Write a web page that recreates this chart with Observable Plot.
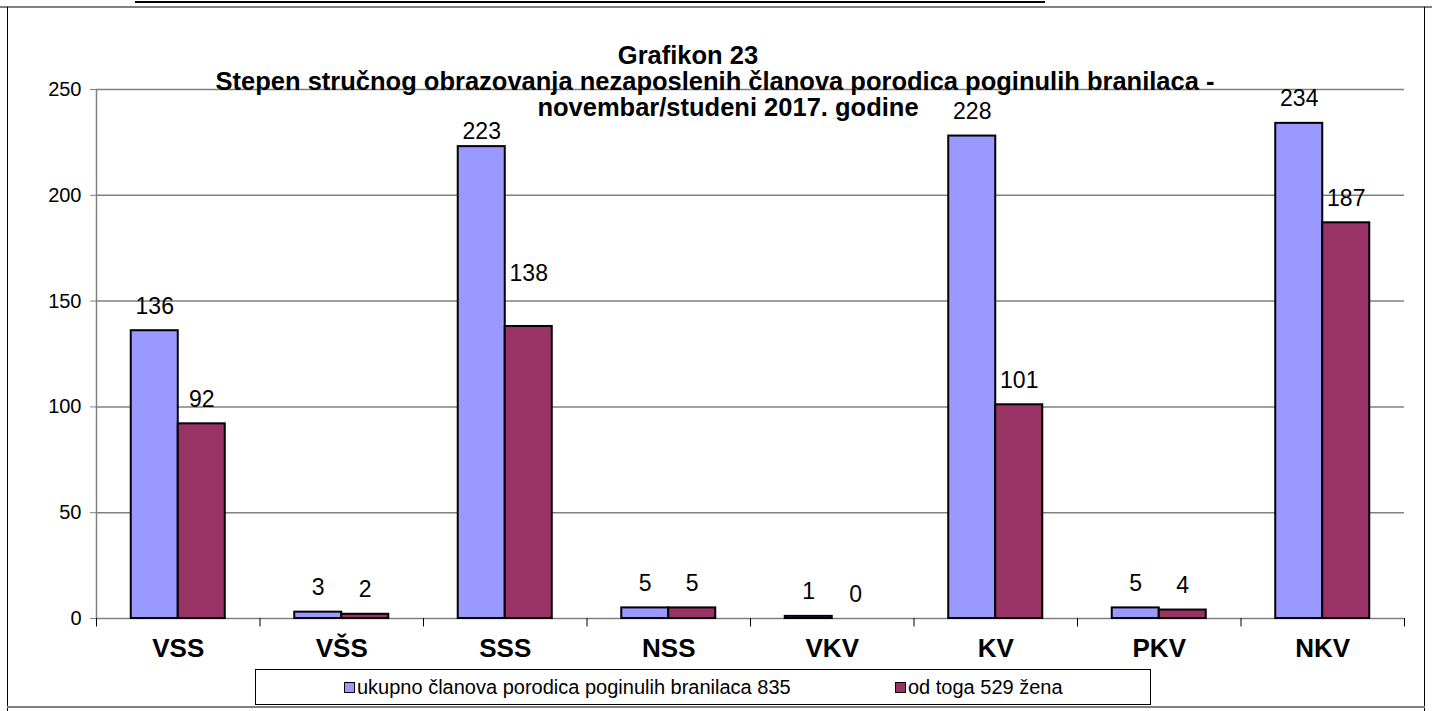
<!DOCTYPE html>
<html>
<head>
<meta charset="utf-8">
<script src="https://cdn.jsdelivr.net/npm/d3@7"></script>
<script src="https://cdn.jsdelivr.net/npm/@observablehq/plot@0.6"></script>
<style>
  html, body { margin: 0; padding: 0; background: #fff; }
  #wrap { position: relative; width: 1432px; height: 711px; overflow: hidden; font-family: "Liberation Sans", Arial, sans-serif; }
  #chart { position: absolute; left: 0; top: 0; }
  .title { position: absolute; font-weight: bold; font-size: 25.5px; white-space: nowrap; transform: translateX(-50%); line-height: 1; }
  #legend { position: absolute; left: 255px; top: 669px; width: 896px; height: 36px; border: 1px solid #000; background: #fff; box-sizing: border-box; font-size: 20px; }
  .li { position: absolute; top: 6px; white-space: nowrap; line-height: 22px; }
  .sw { display: inline-block; width: 9px; height: 9px; border: 1.5px solid #000; margin-right: 2px; vertical-align: 1px; }
  .line { position: absolute; }
</style>
</head>
<body>
<div id="wrap">
  <div class="line" style="left:135px; top:1px; width:910px; height:2px; background:#000;"></div>
  <div class="line" style="left:0; top:6px; width:1432px; height:2px; background:#808080;"></div>
  <div class="line" style="left:7px; top:7px; width:1px; height:704px; background:#000;"></div>
  <div class="line" style="left:1424px; top:7px; width:1px; height:704px; background:#000;"></div>
  <div class="line" style="left:7px; top:706px; width:1418px; height:2px; background:#808080;"></div>
  <div id="chart"></div>
  <div class="title" id="t1" style="left:688px; top:43px;"></div>
  <div class="title" id="t2" style="left:715px; top:69px;"></div>
  <div class="title" id="t3" style="left:728px; top:95px;"></div>
  <div id="legend">
    <div class="li" style="left:88px;"><span class="sw" style="background:#9999FF"></span><span id="l1"></span></div>
    <div class="li" style="left:639px;"><span class="sw" style="background:#993366"></span><span id="l2"></span></div>
  </div>
</div>
<script>
const titleLines = ["Grafikon 23", "Stepen stručnog obrazovanja nezaposlenih članova porodica poginulih branilaca -", "novembar/studeni 2017. godine"];
const categories = ["VSS", "VŠS", "SSS", "NSS", "VKV", "KV", "PKV", "NKV"];
const seriesNames = ["ukupno članova porodica poginulih branilaca 835", "od toga 529  žena"];
const totalValues = [136, 3, 223, 5, 1, 228, 5, 234];
const womenValues = [92, 2, 138, 5, 0, 101, 4, 187];
const yTicks = [0, 50, 100, 150, 200, 250];
const colors = ["#9999FF", "#993366"];

// manual nudges of a few data labels, as in the original chart (style, pixels)
const totalLabelNudge = {SSS: 9};
const womenLabelNudge = {SSS: -28};

document.getElementById("t1").textContent = titleLines[0];
document.getElementById("t2").textContent = titleLines[1];
document.getElementById("t3").textContent = titleLines[2];
document.getElementById("l1").textContent = seriesNames[0];
document.getElementById("l2").textContent = seriesNames[1];

const total = categories.map((c, i) => ({cat: c, v: totalValues[i]}));
const women = categories.map((c, i) => ({cat: c, v: womenValues[i]}));

const W = 1432, ML = 96, MR = 28;
const step = (W - ML - MR) / categories.length;
const half = step * 0.575 / 2;

const labelMarks = (data, nudge, dx) => [
  Plot.text(data.filter(d => !(d.cat in nudge)), {x: "cat", y: "v", text: d => String(d.v), dx, dy: -17, lineAnchor: "bottom", fontSize: 23, fill: "#000"}),
  ...data.filter(d => d.cat in nudge).map(d =>
    Plot.text([d], {x: "cat", y: "v", text: e => String(e.v), dx, dy: -17 + nudge[d.cat], lineAnchor: "bottom", fontSize: 23, fill: "#000"}))
];

const plot = Plot.plot({
  width: W,
  height: 711,
  marginLeft: ML,
  marginRight: MR,
  marginTop: 89,
  marginBottom: 93,
  style: {fontFamily: "'Liberation Sans', Arial, sans-serif", background: "transparent", color: "#000"},
  x: {domain: categories, paddingInner: 0.425, paddingOuter: 0.2125, round: false, label: null},
  y: {domain: [0, 250], label: null},
  marks: [
    Plot.ruleY(yTicks.filter(d => d > 0), {y: d => d, stroke: "#808080", strokeWidth: 1.5, strokeOpacity: 1}),
    Plot.ruleY([0], {stroke: "#808080", strokeWidth: 1.5}),
    Plot.ruleX([categories[0]], {x: d => d, dx: -step / 2, y1: 0, y2: 250, stroke: "#808080", strokeWidth: 1.5}),
    Plot.ruleX(categories, {x: d => d, dx: -step / 2, y1: 0, y2: -4, stroke: "#000", strokeWidth: 1}),
    Plot.ruleX([categories[categories.length - 1]], {x: d => d, dx: step / 2, y1: 0, y2: -4, stroke: "#000", strokeWidth: 1}),
    Plot.barY(total, {x: "cat", y: "v", fill: colors[0], stroke: "#000", strokeWidth: 2, insetRight: half}),
    Plot.barY(women, {x: "cat", y: "v", fill: colors[1], stroke: "#000", strokeWidth: 2, insetLeft: half}),
    ...labelMarks(total, totalLabelNudge, -half / 2),
    ...labelMarks(women, womenLabelNudge, half / 2),
    Plot.axisY({ticks: yTicks, tickSize: 6, tickPadding: 9, fontSize: 20, stroke: "#808080", tickFormat: d => String(d)}),
    Plot.axisX({tickSize: 0, tickPadding: 20, fontSize: 26, fontWeight: "bold"})
  ]
});
document.getElementById("chart").appendChild(plot);
</script>
</body>
</html>
